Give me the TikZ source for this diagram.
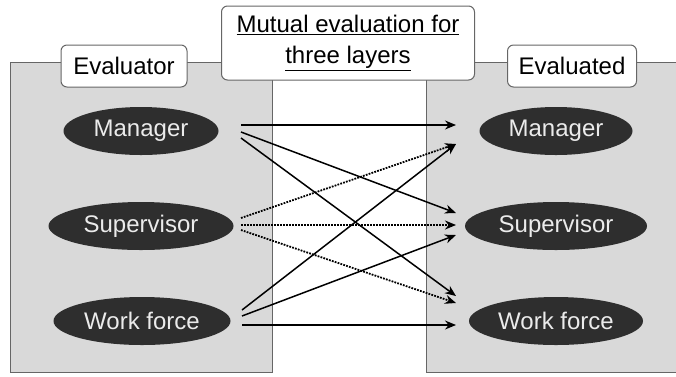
\documentclass[tikz,border=0pt]{standalone}
\usepackage{fontspec}
\setmainfont{Liberation Sans}
\usetikzlibrary{shapes.geometric,arrows.meta}

\definecolor{panelgray}{gray}{0.85}
\definecolor{rolegray}{gray}{0.18}

\tikzset{
  panel/.style={draw=black!60, line width=1pt, fill=panelgray},
  tag/.style={draw=black!60, line width=1pt, fill=white, rounded corners=6pt,
    minimum height=42pt, inner xsep=8pt, font=\fontsize{24}{29}\selectfont},
  role/.style={ellipse, fill=rolegray, text=white!92!black, minimum height=48pt,
    inner xsep=0pt, font=\fontsize{24}{29}\selectfont},
  arr/.style={line width=1.5pt, -{Stealth[length=11pt,width=9pt]}},
  dots/.style={arr, line width=1.8pt, dash pattern=on 1.8pt off 1.2pt}
}

\begin{document}
\begin{tikzpicture}[x=1pt,y=-1pt]

\useasboundingbox (0,0) rectangle (676,376);

%the two panels
\draw[panel] (10,62) rectangle (272,372);
\draw[panel] (426,62) rectangle (680,372);

%panel titles
\node[tag, minimum width=126pt] (evaluator) at (124,66) {Evaluator};
\node[tag, minimum width=129pt] (evaluated) at (572,66) {Evaluated};
\node[tag, minimum width=253pt, minimum height=74pt, align=center, inner ysep=2pt] (title) at (348,43)
  {\underline{Mutual evaluation for}\\[2pt] \underline{three layers}};

%evaluators
\node[role, minimum width=155pt] (mgrL) at (141,131) {Manager};
\node[role, minimum width=185pt] (supL) at (141,226) {Supervisor};
\node[role, minimum width=177pt] (wfL) at (142,321) {Work force};

%evaluated
\node[role, minimum width=153pt] (mgrR) at (556,131) {Manager};
\node[role, minimum width=182pt] (supR) at (556,226) {Supervisor};
\node[role, minimum width=174pt] (wfR) at (556,321) {Work force};

%manager evaluates
\draw[arr] ([shift={(100,-6)}]mgrL.center) -- ([shift={(-100,-6)}]mgrR.center);
\draw[arr] ([shift={(100,1)}]mgrL.center) -- ([shift={(-100,-13)}]supR.center);
\draw[arr] ([shift={(100,7)}]mgrL.center) -- ([shift={(-100,-25)}]wfR.center);

%supervisor evaluates
\draw[dots] ([shift={(100,-8)}]supL.center) -- ([shift={(-100,13)}]mgrR.center);
\draw[dots] ([shift={(100,-1)}]supL.center) -- ([shift={(-100,-1)}]supR.center);
\draw[dots] ([shift={(100,4)}]supL.center) -- ([shift={(-100,-18)}]wfR.center);

%work force evaluates
\draw[arr] ([shift={(100,-11)}]wfL.center) -- ([shift={(-100,13)}]mgrR.center);
\draw[arr] ([shift={(100,-5)}]wfL.center) -- ([shift={(-100,9)}]supR.center);
\draw[arr] ([shift={(100,4)}]wfL.center) -- ([shift={(-100,4)}]wfR.center);

\end{tikzpicture}
\end{document}
